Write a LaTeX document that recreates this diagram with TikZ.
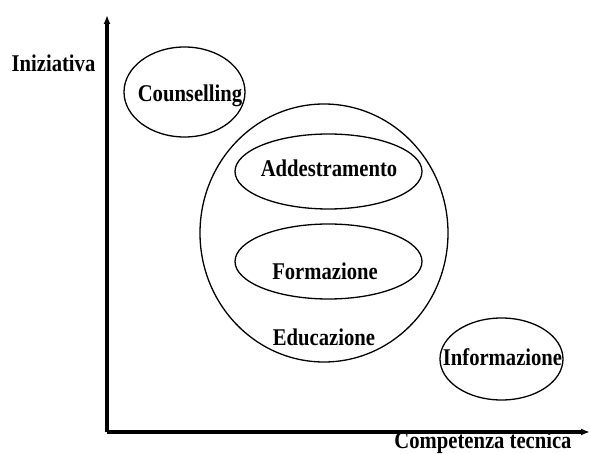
\documentclass[tikz,border=0pt]{standalone}
\usepackage{fontspec}
\setmainfont{Liberation Serif}[FakeStretch=0.86]
\usetikzlibrary{arrows.meta}

\begin{document}
\begin{tikzpicture}[x=1pt,y=-1pt,
    etichetta/.style={font=\fontsize{24}{24}\selectfont\bfseries, inner sep=0pt, anchor=base},
    insieme/.style={line width=1.3pt},
    asse/.style={line width=3.2pt, -{Latex[length=9pt,width=7pt]}}]

    \useasboundingbox (0,0) rectangle (590,454);

    % assi
    \coordinate (origine) at (107,432);
    \coordinate (cima) at (107,15);
    \coordinate (fondo) at (590,432);
    \draw[asse] (origine) -- (cima);
    \draw[asse] (origine) -- (fondo);

    % insiemi
    \draw[insieme] (184.5,92) ellipse [x radius=60.5, y radius=45]; % counselling
    \draw[insieme] (324,233) ellipse [x radius=124, y radius=129]; % educazione
    \draw[insieme] (328.5,171.5) ellipse [x radius=93.5, y radius=37.5]; % addestramento
    \draw[insieme] (328.5,261.5) ellipse [x radius=93.5, y radius=37.5]; % formazione
    \draw[insieme] (501.5,359) ellipse [x radius=61.5, y radius=41]; % informazione

    % etichette
    \node[etichetta] (iniziativa) at (53.5,72) {Iniziativa};
    \node[etichetta] (competenza) at (483,449) {Competenza tecnica};
    \node[etichetta] (counselling) at (190,102) {Counselling};
    \node[etichetta] (addestramento) at (329,177) {Addestramento};
    \node[etichetta] (formazione) at (325,280) {Formazione};
    \node[etichetta] (educazione) at (324,346) {Educazione};
    \node[etichetta] (informazione) at (502.5,366) {Informazione};

\end{tikzpicture}
\end{document}
